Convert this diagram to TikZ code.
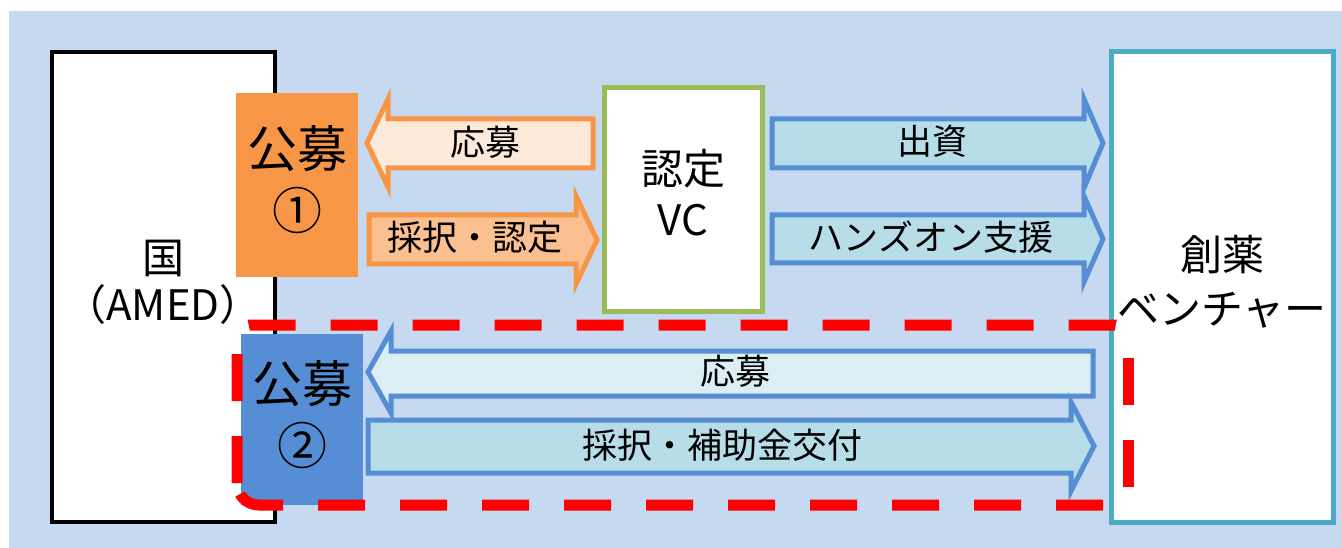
\documentclass[tikz,border=0pt]{standalone}
\usepackage{fontspec}
\setmainfont{Noto Sans CJK JP}
\definecolor{bgblue}{HTML}{C6D9F1}
\definecolor{orng}{HTML}{F79646}
\definecolor{lorng}{HTML}{FDE9D9}
\definecolor{morng}{HTML}{FAC090}
\definecolor{bblue}{HTML}{558ED5}
\definecolor{aqua}{HTML}{B7DEE8}
\definecolor{laqua}{HTML}{DBEEF4}
\definecolor{vcgreen}{HTML}{9BBB59}
\definecolor{vencyan}{HTML}{4BACC6}
\tikzset{
  box/.style={inner sep=0pt, outer sep=0pt},
  gtxt/.style={anchor=base, inner sep=0pt, font=\fontsize{50}{60}\selectfont},
  btxt/.style={anchor=base, inner sep=0pt, font=\fontsize{42}{50}\selectfont},
  atxt/.style={anchor=base, inner sep=0pt, font=\fontsize{35}{42}\selectfont},
  oarrow/.style={draw=orng, line width=5pt, line join=miter},
  barrow/.style={draw=bblue, line width=5pt, line join=miter},
  reddash/.style={draw=red, line width=11pt, dash pattern=on 47pt off 35pt}
}
\begin{document}
\begin{tikzpicture}[x=1pt,y=-1pt]
\useasboundingbox (0,0) rectangle (1342,548);
\fill[white] (0,0) rectangle (1342,548);
\fill[bgblue] (9,11) rectangle (1342,548);

% main boxes
\node[box, draw=black, line width=4pt, fill=white, minimum width=223pt, minimum height=470pt] (kuni) at (163.5,287) {};
\node[box, draw=vcgreen, line width=5pt, fill=white, minimum width=158pt, minimum height=223pt] (vc) at (683,199.5) {};
\node[box, draw=vencyan, line width=5pt, fill=white, minimum width=222pt, minimum height=470pt] (ven) at (1222,287) {};
\node[box, fill=orng, minimum width=122pt, minimum height=184pt] (kb1) at (297,185) {};
\node[box, fill=bblue, minimum width=122pt, minimum height=171pt] (kb2) at (302,419.5) {};

% block arrows
\draw[oarrow, fill=lorng] (367,143) -- (388,99) -- (388,119) -- (593,119) -- (593,168) -- (388,168) -- (388,187) -- cycle;
\draw[oarrow, fill=morng] (369,215) -- (576,215) -- (576,196) -- (597,240) -- (576,284) -- (576,264) -- (369,264) -- cycle;
\draw[barrow, fill=aqua] (772,119) -- (1084,119) -- (1084,99) -- (1103,143) -- (1084,188) -- (1084,168) -- (772,168) -- cycle;
\draw[barrow, fill=aqua] (772,215) -- (1084,215) -- (1084,196) -- (1103,239) -- (1084,282) -- (1084,263) -- (772,263) -- cycle;
\draw[barrow, fill=laqua] (368,372) -- (391,331) -- (391,351) -- (1093,351) -- (1093,396) -- (391,396) -- (391,413) -- cycle;
\draw[barrow, fill=aqua] (368,420) -- (1071,420) -- (1071,402) -- (1094,446) -- (1071,491) -- (1071,473) -- (368,473) -- cycle;

% texts
\node[btxt] (kunit) at (163,273) {国};
\node[btxt] (amed) at (163,320) {（AMED）};
\node[gtxt] (k1a) at (297,168) {公募};
\node[gtxt] (k1b) at (297,230) {①};
\node[gtxt] (k2a) at (302,402) {公募};
\node[gtxt] (k2b) at (302,464) {②};
\node[btxt] (vca) at (683,185) {認定};
\node[btxt] (vcb) at (683,236) {VC};
\node[btxt] (vena) at (1222,271) {創薬};
\node[btxt] (venb) at (1222,324) {ベンチャー};
\node[atxt] (t1) at (485,156) {応募};
\node[atxt] (t2) at (475,251) {採択・認定};
\node[atxt] (t3) at (932,155) {出資};
\node[atxt] (t4) at (931,251) {ハンズオン支援};
\node[atxt] (t5) at (735,384) {応募};
\node[atxt] (t6) at (722,458) {採択・補助金交付};

% red dashed frame
\draw[reddash, rounded corners=13pt] (237,483) -- (237,325) -- (1128,325) -- (1128,340);
\draw[reddash] (1128,358) -- (1128,505);
\draw[reddash, rounded corners=22pt, dash phase=57.4pt] (237,470) -- (237,505) -- (1128,505);
\end{tikzpicture}
\end{document}
